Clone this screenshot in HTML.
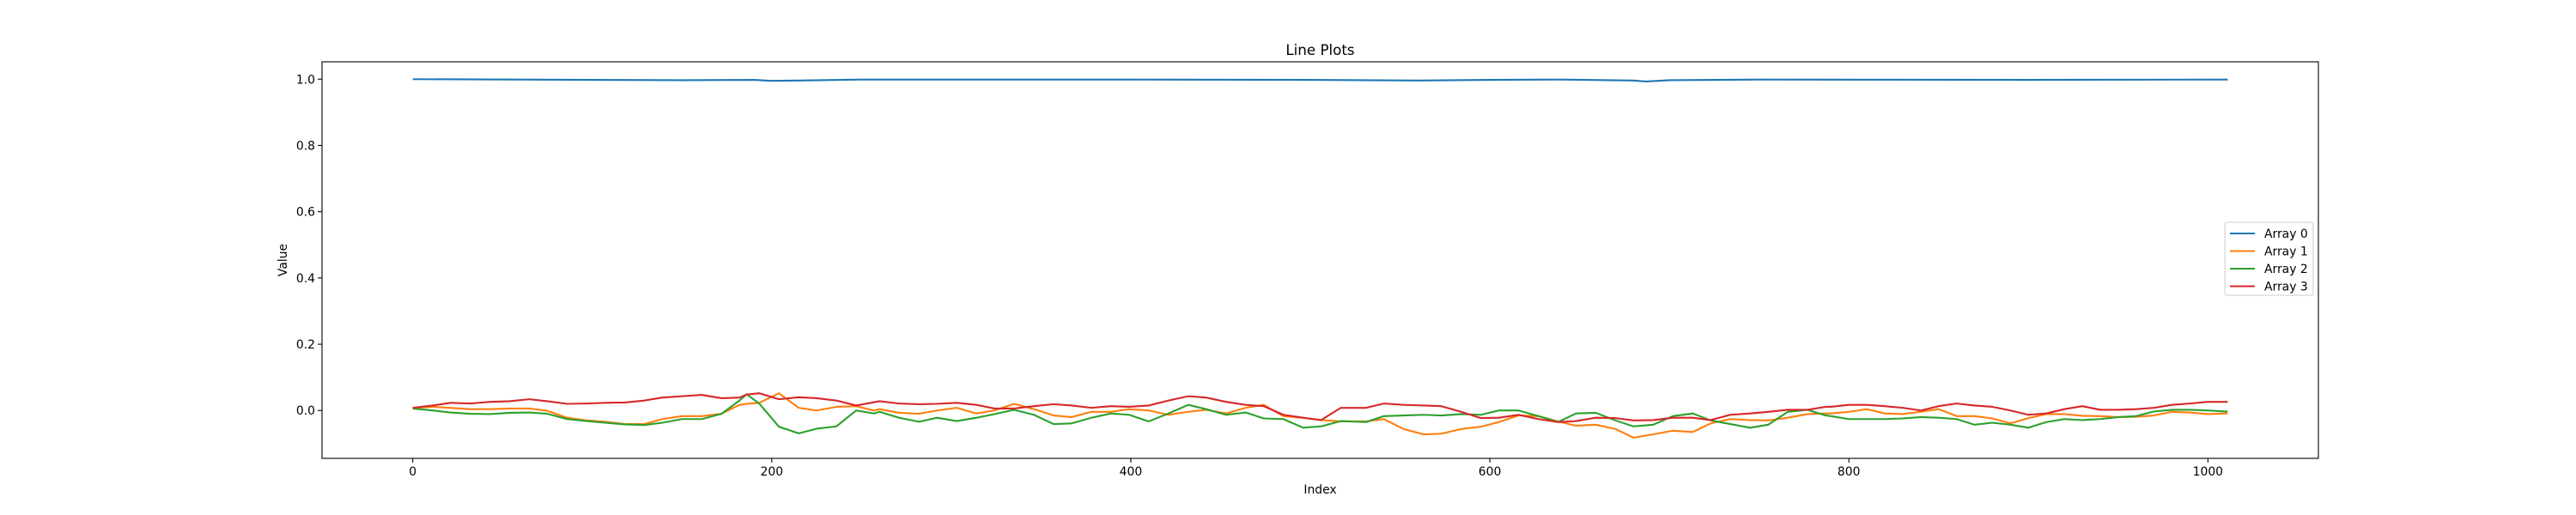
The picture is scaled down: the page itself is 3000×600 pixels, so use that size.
<!DOCTYPE html>
<html><head><meta charset="utf-8"><style>
html,body{margin:0;padding:0;background:#fff;}
svg{display:block;font-family:"DejaVu Sans","Liberation Sans",sans-serif;}
</style></head><body>
<svg id="chart" width="3000" height="600" viewBox="0 0 3000 600" xmlns="http://www.w3.org/2000/svg">
<rect x="0" y="0" width="3000" height="600" fill="#fff"/>
<text x="1537.5" y="64" text-anchor="middle" font-size="16.7" fill="#000">Line Plots</text>
<text x="1537.5" y="575" text-anchor="middle" font-size="13.9" fill="#000">Index</text>
<text transform="translate(334,303) rotate(-90)" text-anchor="middle" font-size="13.9" fill="#000">Value</text>
<g id="ticks"></g>
<g id="series"></g>
<rect x="375" y="72" width="2325" height="462" fill="none" stroke="#000" stroke-width="1.1"/>
<g id="legend">
<rect x="2591" y="259" width="103" height="85" rx="3" fill="#fff" fill-opacity="0.8" stroke="#ccc" stroke-width="1"/>
</g>
</svg>
<script>
const xTicks = [0, 200, 400, 600, 800, 1000];
const yTicks = [0.0, 0.2, 0.4, 0.6, 0.8, 1.0];
const yTickLabels = ["0.0", "0.2", "0.4", "0.6", "0.8", "1.0"];
const seriesNames = ["Array 0", "Array 1", "Array 2", "Array 3"];
const seriesColors = ["#1f77b4", "#ff7f0e", "#2ca02c", "#d62728"];

const blueIdx = [0,100,150,190,200,215,250,400,500,560,600,640,680,687,700,750,900,1011];
const array0 = [1.0,0.998,0.997,0.998,0.995,0.996,0.999,0.999,0.998,0.996,0.998,0.999,0.996,0.993,0.997,0.999,0.998,0.999];

const idx = [0,11,21,32,43,54,65,75,86,97,107,118,129,139,150,161,172,182,186,193,204,215,225,236,247,257,
260,271,282,292,303,314,324,335,346,357,367,378,389,399,410,421,432,442,453,464,474,485,496,506,517,
531,541,552,563,573,584,595,605,616,627,638,648,659,670,680,691,702,713,723,734,745,755,766,777,787,
790,800,810,820,830,840,850,860,870,880,890,900,910,920,930,940,950,960,970,980,990,1000,1010,1011];

const array1 = [0.008,0.011,0.008,0.004,0.004,0.006,0.006,-0.001,-0.022,-0.030,-0.034,-0.041,-0.041,-0.026,-0.017,-0.017,-0.010,0.017,0.020,0.023,0.052,0.008,0.0,0.011,0.013,0.0,
0.004,-0.007,-0.010,0.0,0.008,-0.009,0.0,0.020,0.004,-0.015,-0.020,-0.004,-0.004,0.004,0.0,-0.013,-0.004,0.002,-0.009,0.008,0.017,-0.017,-0.022,-0.029,-0.033,
-0.033,-0.026,-0.056,-0.072,-0.070,-0.056,-0.049,-0.035,-0.015,-0.017,-0.033,-0.046,-0.043,-0.056,-0.082,-0.072,-0.061,-0.065,-0.039,-0.026,-0.029,-0.030,-0.022,-0.011,-0.009,
-0.009,-0.004,0.004,-0.009,-0.011,-0.004,0.004,-0.017,-0.017,-0.024,-0.039,-0.023,-0.011,-0.011,-0.016,-0.017,-0.020,-0.019,-0.015,-0.004,-0.006,-0.011,-0.009,-0.009];

const array2 = [0.006,0.0,-0.006,-0.010,-0.011,-0.007,-0.006,-0.010,-0.026,-0.032,-0.037,-0.042,-0.044,-0.037,-0.026,-0.026,-0.010,0.030,0.049,0.021,-0.049,-0.069,-0.055,-0.048,0.0,-0.009,
-0.004,-0.022,-0.034,-0.022,-0.032,-0.022,-0.011,0.002,-0.013,-0.041,-0.039,-0.022,-0.009,-0.013,-0.033,-0.009,0.017,0.004,-0.013,-0.006,-0.024,-0.026,-0.052,-0.048,-0.032,
-0.035,-0.017,-0.015,-0.013,-0.015,-0.011,-0.013,0.0,0.0,-0.017,-0.035,-0.009,-0.007,-0.030,-0.048,-0.043,-0.017,-0.009,-0.030,-0.041,-0.052,-0.043,-0.004,0.002,-0.015,
-0.017,-0.026,-0.026,-0.026,-0.024,-0.020,-0.022,-0.026,-0.043,-0.037,-0.043,-0.052,-0.035,-0.026,-0.029,-0.026,-0.020,-0.017,-0.003,0.002,0.002,0.0,-0.003,-0.003];

const array3 = [0.008,0.015,0.023,0.021,0.026,0.028,0.034,0.028,0.020,0.021,0.023,0.024,0.030,0.039,0.043,0.047,0.037,0.039,0.048,0.052,0.034,0.040,0.037,0.030,0.015,0.025,
0.028,0.021,0.019,0.020,0.023,0.017,0.006,0.006,0.013,0.019,0.015,0.008,0.013,0.011,0.015,0.030,0.043,0.039,0.026,0.017,0.013,-0.013,-0.022,-0.029,0.008,
0.008,0.021,0.017,0.015,0.013,-0.004,-0.023,-0.022,-0.013,-0.026,-0.035,-0.032,-0.022,-0.023,-0.030,-0.029,-0.022,-0.022,-0.029,-0.013,-0.009,-0.004,0.002,0.002,0.011,
0.011,0.017,0.017,0.013,0.008,0.0,0.013,0.021,0.015,0.011,0.0,-0.013,-0.009,0.004,0.013,0.002,0.002,0.004,0.008,0.017,0.021,0.026,0.026,0.026];

const NS = "http://www.w3.org/2000/svg";
const X0 = 375, X1 = 2700, Y0 = 534, Y1 = 72;
const xMin = -50.55, xMax = 1061.55, yMin = -0.1445, yMax = 1.0525;
function xs(v){ return X0 + (v - xMin) / (xMax - xMin) * (X1 - X0); }
function ys(v){ return Y0 - (v - yMin) / (yMax - yMin) * (Y0 - Y1); }

const tg = document.getElementById("ticks");
xTicks.forEach(t => {
  const l = document.createElementNS(NS, "line");
  l.setAttribute("x1", xs(t)); l.setAttribute("x2", xs(t));
  l.setAttribute("y1", Y0); l.setAttribute("y2", Y0 + 4.9);
  l.setAttribute("stroke", "#000"); l.setAttribute("stroke-width", "1.1");
  
  
  tg.appendChild(l);
  const tx = document.createElementNS(NS, "text");
  tx.setAttribute("x", xs(t)); tx.setAttribute("y", Y0 + 20);
  tx.setAttribute("text-anchor", "middle"); tx.setAttribute("font-size", "13.9");
  tx.textContent = String(t);
  
  
  tg.appendChild(tx);
});
yTicks.forEach((t, i) => {
  const l = document.createElementNS(NS, "line");
  l.setAttribute("x1", X0 - 4.9); l.setAttribute("x2", X0);
  l.setAttribute("y1", ys(t)); l.setAttribute("y2", ys(t));
  l.setAttribute("stroke", "#000"); l.setAttribute("stroke-width", "1.1");
  
  
  tg.appendChild(l);
  const tx = document.createElementNS(NS, "text");
  tx.setAttribute("x", X0 - 8); tx.setAttribute("y", ys(t) + 5);
  tx.setAttribute("text-anchor", "end"); tx.setAttribute("font-size", "13.9");
  tx.textContent = yTickLabels[i];
  
  
  tg.appendChild(tx);
});

const sg = document.getElementById("series");
const allX = [blueIdx, idx, idx, idx];
const allY = [array0, array1, array2, array3];
allY.forEach((arr, s) => {
  const xv = allX[s];
  const d = arr.map((v, i) => (i ? "L" : "M") + xs(xv[i]).toFixed(2) + "," + ys(v).toFixed(2)).join(" ");
  const p = document.createElementNS(NS, "path");
  p.setAttribute("d", d); p.setAttribute("fill", "none");
  p.setAttribute("stroke", seriesColors[s]); p.setAttribute("stroke-width", "2.1");
  p.setAttribute("stroke-linejoin", "round");
  
  
  sg.appendChild(p);
});

const lg = document.getElementById("legend");
seriesNames.forEach((n, i) => {
  const y = 272 + i * 20.5;
  const l = document.createElementNS(NS, "line");
  l.setAttribute("x1", 2597); l.setAttribute("x2", 2626);
  l.setAttribute("y1", y); l.setAttribute("y2", y);
  l.setAttribute("stroke", seriesColors[i]); l.setAttribute("stroke-width", "2.1");
  
  
  lg.appendChild(l);
  const t = document.createElementNS(NS, "text");
  t.setAttribute("x", 2637); t.setAttribute("y", y + 5);
  t.setAttribute("font-size", "13.9");
  t.textContent = n;
  
  
  lg.appendChild(t);
});
</script>
</body></html>
